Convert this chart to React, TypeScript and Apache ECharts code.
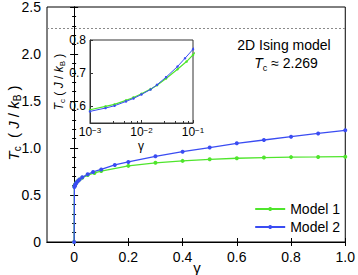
import React, { useEffect, useRef } from "react";
import * as echarts from "echarts";

const gamma1 = [0, 0.001, 0.002, 0.003, 0.005, 0.007, 0.01, 0.015, 0.02, 0.03, 0.05, 0.075, 0.1, 0.2, 0.3, 0.4, 0.5, 0.6, 0.7, 0.8, 0.9, 1.0];
const tc1 = [0, 0.59, 0.6, 0.606, 0.618, 0.627, 0.638, 0.652, 0.664, 0.684, 0.712, 0.735, 0.755, 0.81, 0.842, 0.863, 0.88, 0.891, 0.898, 0.903, 0.905, 0.908];
const gamma2 = [0, 0.001, 0.002, 0.003, 0.005, 0.007, 0.01, 0.015, 0.02, 0.03, 0.05, 0.07, 0.1, 0.15, 0.2, 0.3, 0.4, 0.5, 0.6, 0.7, 0.8, 0.9, 1.0];
const tc2 = [0, 0.585, 0.595, 0.602, 0.615, 0.624, 0.636, 0.651, 0.665, 0.688, 0.72, 0.745, 0.772, 0.82, 0.852, 0.912, 0.961, 1.005, 1.05, 1.085, 1.12, 1.155, 1.188];
const seriesNames = ["Model 1", "Model 2"];
const isingTc = 2.269;
const xTicks = [0, 0.2, 0.4, 0.6, 0.8, 1.0];
const insetYTicks = [0.6, 0.7, 0.8];

const GREEN = "#4fe52c";
const BLUE = "#3a4cf2";
const FONT = "Liberation Sans";

const pairs = (xs: number[], ys: number[]) => xs.map((x, i) => [x, ys[i]]);
const positive = (d: number[][]) => d.filter((p) => p[0] > 0);

export default function App() {
  const ref = useRef<HTMLDivElement>(null);
  useEffect(() => {
    if (!ref.current) return;
    const chart = echarts.init(ref.current, null, { renderer: "svg" });
    const d1 = pairs(gamma1, tc1);
    const d2 = pairs(gamma2, tc2);
    const tickCommon = { inside: true, length: 4, lineStyle: { color: "#000" } };
    const mainLabel = { color: "#000", fontSize: 14, fontFamily: FONT };
    const supFmt = (v: number) => `10{sup|${Math.round(Math.log10(v)).toString().replace("-", "−")}}`;
    chart.setOption({
      animation: false,
      grid: [
        { left: 47, right: 11, top: 5, bottom: 33, show: true, borderColor: "#000", borderWidth: 1, backgroundColor: "#fff" },
        { left: 90, top: 40, width: 103, height: 83, show: true, borderColor: "#333", borderWidth: 1, backgroundColor: "#fff", z: 10 },
      ],
      xAxis: [
        {
          gridIndex: 0, type: "value", min: -0.1, max: 1.0, position: "bottom",
          axisLine: { lineStyle: { color: "#000" } },
          axisTick: { ...tickCommon, customValues: xTicks },
          axisLabel: { ...mainLabel, margin: 8, customValues: xTicks, formatter: (v: number) => (v === 0 ? "0" : v.toFixed(1)) },
          splitLine: { show: false },
        },
        {
          gridIndex: 0, type: "value", min: -0.1, max: 1.0, position: "top",
          axisLine: { lineStyle: { color: "#000" } },
          axisTick: { ...tickCommon, customValues: xTicks },
          axisLabel: { show: false },
          splitLine: { show: false },
        },
        {
          gridIndex: 1, type: "log", logBase: 10, min: 0.001, max: 0.1, z: 10,
          axisLine: { lineStyle: { color: "#333" } },
          axisTick: { inside: true, length: 3, lineStyle: { color: "#333" } },
          minorTick: { show: true, length: 2, lineStyle: { color: "#333" } },
          axisLabel: {
            color: "#000", fontSize: 12, fontFamily: FONT, margin: 3, lineHeight: 11,
            formatter: supFmt,
            rich: { sup: { fontSize: 8, fontFamily: FONT, verticalAlign: "top", lineHeight: 8, padding: [0, 0, 5, 0] } },
          },
          splitLine: { show: false },
        },
      ],
      yAxis: [
        {
          gridIndex: 0, type: "value", min: 0, max: 2.5, interval: 0.5,
          axisLine: { lineStyle: { color: "#000" } },
          axisTick: tickCommon,
          minorTick: { show: true, splitNumber: 5, length: 2, lineStyle: { color: "#000" } },
          axisLabel: { ...mainLabel, margin: 6, formatter: (v: number) => (v === 0 ? "0" : v.toFixed(1)) },
          splitLine: { show: false },
        },
        {
          gridIndex: 0, type: "value", min: 0, max: 2.5, interval: 0.5, position: "right",
          axisLine: { lineStyle: { color: "#000" } },
          axisTick: tickCommon,
          minorTick: { show: true, splitNumber: 5, length: 2, lineStyle: { color: "#000" } },
          axisLabel: { show: false },
          splitLine: { show: false },
        },
        {
          gridIndex: 1, type: "value", min: 0.55, max: 0.8, z: 10,
          axisLine: { lineStyle: { color: "#333" } },
          axisTick: { inside: true, length: 3, customValues: insetYTicks, lineStyle: { color: "#333" } },
          axisLabel: { color: "#000", fontSize: 12, fontFamily: FONT, margin: 4, customValues: insetYTicks, formatter: (v: number) => v.toFixed(1) },
          splitLine: { show: false },
        },
      ],
      legend: {
        right: 18, top: 202, orient: "vertical", itemWidth: 30, itemHeight: 5, itemGap: 4, padding: 0,
        textStyle: { fontSize: 14, fontFamily: FONT, color: "#000", lineHeight: 12 },
        data: seriesNames,
      },
      series: [
        {
          name: seriesNames[0], type: "line", xAxisIndex: 0, yAxisIndex: 0, data: d1,
          symbol: "circle", symbolSize: 4, lineStyle: { color: GREEN, width: 1.3 }, itemStyle: { color: GREEN },
          markLine: {
            silent: true, symbol: "none", label: { show: false },
            lineStyle: { color: "#8a8a8a", type: [2, 2], width: 1.2 },
            data: [{ yAxis: isingTc }],
          },
        },
        {
          name: seriesNames[1], type: "line", xAxisIndex: 0, yAxisIndex: 0, data: d2,
          symbol: "circle", symbolSize: 4, lineStyle: { color: BLUE, width: 1.3 }, itemStyle: { color: BLUE },
        },
        {
          name: seriesNames[0] + " inset", type: "line", xAxisIndex: 2, yAxisIndex: 2, data: positive(d1), z: 11,
          symbol: "circle", symbolSize: 2.5, lineStyle: { color: GREEN, width: 1.2 }, itemStyle: { color: GREEN },
        },
        {
          name: seriesNames[1] + " inset", type: "line", xAxisIndex: 2, yAxisIndex: 2, data: positive(d2), z: 11,
          symbol: "circle", symbolSize: 2.5, lineStyle: { color: BLUE, width: 1.0 }, itemStyle: { color: BLUE },
        },
      ],
      graphic: [
        {
          type: "text", x: 284, y: 45, z: 20,
          style: { text: "2D Ising model", fontSize: 14, fontFamily: FONT, fill: "#000", align: "center", verticalAlign: "middle" },
        },
        {
          type: "text", x: 286, y: 63, z: 20,
          style: {
            text: "{i|T}{s|c}{n| ≈ 2.269}", align: "center", verticalAlign: "middle",
            rich: {
              i: { fontSize: 14, fontFamily: FONT, fontStyle: "italic", fill: "#000", lineHeight: 18 },
              s: { fontSize: 9, fontFamily: FONT, fill: "#000", verticalAlign: "bottom", lineHeight: 14 },
              n: { fontSize: 14, fontFamily: FONT, fill: "#000", lineHeight: 18 },
            },
          },
        },
        {
          type: "text", x: 197, y: 267, z: 20,
          style: { text: "γ", fontSize: 15, fontFamily: FONT, fill: "#000", align: "center", verticalAlign: "middle" },
        },
        {
          type: "text", x: 141, y: 146, z: 20,
          style: { text: "γ", fontSize: 12, fontFamily: FONT, fill: "#000", align: "center", verticalAlign: "middle" },
        },
        {
          type: "text", x: 13, y: 123, rotation: Math.PI / 2, z: 20,
          style: {
            text: "{i|T}{s|c}{n|  ( }{i|J}{n| / }{i|k}{s|B}{n| )}", align: "center", verticalAlign: "middle",
            rich: {
              i: { fontSize: 15, fontFamily: FONT, fontStyle: "italic", fill: "#000", lineHeight: 18 },
              s: { fontSize: 10, fontFamily: FONT, fill: "#000", verticalAlign: "bottom", lineHeight: 14 },
              n: { fontSize: 15, fontFamily: FONT, fill: "#000", lineHeight: 18 },
            },
          },
        },
        {
          type: "text", x: 59, y: 82, rotation: Math.PI / 2, z: 20,
          style: {
            text: "{i|T}{s|c}{n| ( }{i|J}{n| / }{i|k}{s|B}{n| )}", align: "center", verticalAlign: "middle",
            rich: {
              i: { fontSize: 12, fontFamily: FONT, fontStyle: "italic", fill: "#000", lineHeight: 15 },
              s: { fontSize: 8, fontFamily: FONT, fill: "#000", verticalAlign: "bottom", lineHeight: 12 },
              n: { fontSize: 12, fontFamily: FONT, fill: "#000", lineHeight: 15 },
            },
          },
        },
      ],
    });
    return () => chart.dispose();
  }, []);
  return <div ref={ref} style={{ width: 358, height: 275, position: "absolute", left: 0, top: 0 }} />;
}
